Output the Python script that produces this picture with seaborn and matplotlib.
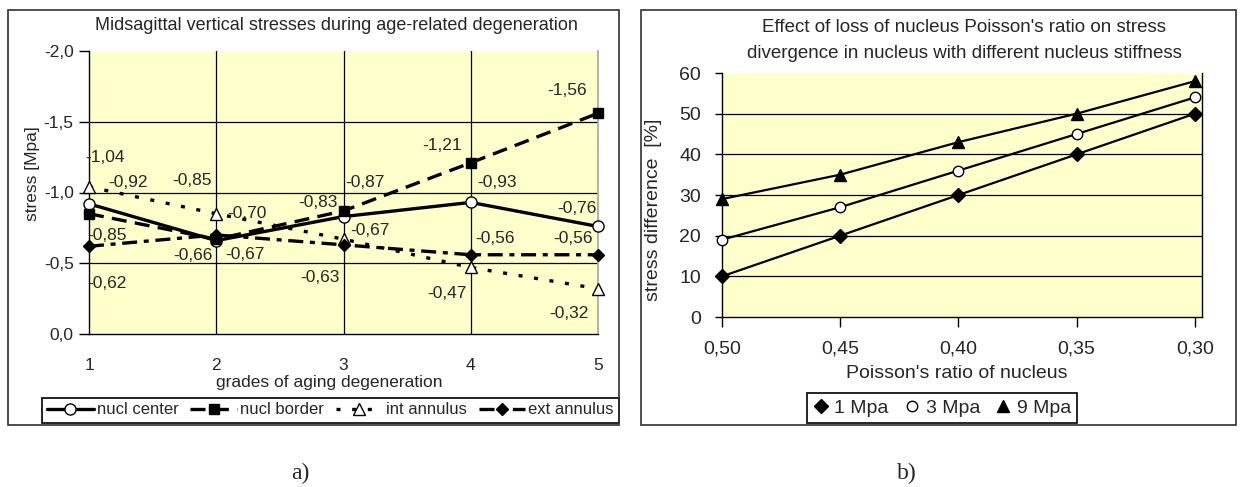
import seaborn as sns
import matplotlib.pyplot as plt
from matplotlib.lines import Line2D
from matplotlib.patches import Rectangle

# a) midsagittal vertical stresses
grades = [1, 2, 3, 4, 5]
nucl_center = [-0.92, -0.66, -0.83, -0.93, -0.76]
nucl_border = [-0.85, -0.67, -0.87, -1.21, -1.56]
int_annulus = [-1.04, -0.85, -0.67, -0.47, -0.32]
ext_annulus = [-0.62, -0.70, -0.63, -0.56, -0.56]
names_a = ['nucl center', 'nucl border', 'int annulus', 'ext annulus']
yticks_a = [-2.0, -1.5, -1.0, -0.5, 0.0]

# b) stress difference vs poisson's ratio
poisson = [0.50, 0.45, 0.40, 0.35, 0.30]
mpa_1 = [10, 20, 30, 40, 50]
mpa_3 = [19, 27, 36, 45, 54]
mpa_9 = [29, 35, 43, 50, 58]
names_b = ['1 Mpa', '3 Mpa', '9 Mpa']
yticks_b = [0, 10, 20, 30, 40, 50, 60]

W, H = 1243, 487
fx = lambda px: px / W
fy = lambda py: 1 - py / H
bg = '#ffffcc'
fs_a = 12.5
fs_b = 14

sns.set_theme(style='white')
plt.rcParams['font.family'] = ['Liberation Sans', 'DejaVu Sans']
plt.rcParams['font.size'] = fs_a

fig = plt.figure(figsize=(W / 100, H / 100), dpi=100)

# outer frames of the two charts
for x0, x1 in [(8, 619), (641, 1236)]:
    fig.patches.append(Rectangle((fx(x0), fy(425)), (x1 - x0) / W, 415 / H,
                                 transform=fig.transFigure, fill=False,
                                 edgecolor='#303030', lw=1.2))

# ---------------- a) ----------------
ax1 = fig.add_axes([fx(89), fy(334), (598 - 89) / W, (334 - 51) / H])
ax1.set_facecolor(bg)

styles_a = [
    dict(linestyle='-', marker='o', markerfacecolor='white', markersize=8),
    dict(linestyle=(0, (4.5, 2.5)), marker='s', markerfacecolor='black', markersize=6.5),
    dict(linestyle=(0, (1.2, 3.5)), marker='^', markerfacecolor='white', markersize=9),
    dict(linestyle=(0, (4.5, 2, 1.5, 2)), marker='D', markerfacecolor='black', markersize=6.5),
]
# data label offsets in pixels (dx, dy) for each point
offsets_a = [
    [(39, 21), (-23, -15), (-26, 14), (26, 20), (-21, 18)],
    [(18, -22), (29, -15), (21, 28), (-29, 17), (-31, 23)],
    [(16, 29), (-24, 33), (26, 9), (-24, -26), (-29, -25)],
    [(18, -37), (31, 21), (-24, -33), (24, 16), (-25, 16)],
]
for name, vals, st, offs in zip(names_a, [nucl_center, nucl_border, int_annulus, ext_annulus],
                                styles_a, offsets_a):
    sns.lineplot(x=grades, y=vals, ax=ax1, color='black', lw=2.4, label=name,
                 errorbar=None, markeredgecolor='black', markeredgewidth=1,
                 clip_on=False, zorder=3, **st)
    for g, v, (dx, dy) in zip(grades, vals, offs):
        ax1.annotate(f'{v:.2f}'.replace('.', ','), (g, v), xytext=(dx, dy),
                     textcoords='offset pixels', ha='center', va='center', fontsize=fs_a)

ax1.set_xlim(1, 5)
ax1.set_ylim(0, -2)
ax1.set_xticks(grades)
ax1.set_yticks(yticks_a)
ax1.set_yticklabels([f'{v:.1f}'.replace('.', ',') for v in yticks_a])
ax1.grid(True, color='black', lw=0.9)
for gl in [ax1.xaxis.get_gridlines()[0], ax1.xaxis.get_gridlines()[-1],
           ax1.yaxis.get_gridlines()[0], ax1.yaxis.get_gridlines()[-1]]:
    gl.set_visible(False)
ax1.tick_params(axis='y', left=True, length=7, width=1, color='black', pad=4, labelsize=fs_a)
ax1.tick_params(axis='x', bottom=False, pad=11, labelsize=fs_a)
for s in ['left', 'bottom']:
    ax1.spines[s].set_color('black')
    ax1.spines[s].set_linewidth(1)
ax1.spines['top'].set_visible(False)
ax1.spines['right'].set_color('#a8a8a8')
ax1.set_xlabel('')
ax1.set_ylabel('')

h, l = ax1.get_legend_handles_labels()
leg1 = ax1.legend(h, l, loc='center', ncol=4, mode='expand',
                  bbox_to_anchor=(fx(42), fy(425), (619 - 42) / W, 30 / H),
                  bbox_transform=fig.transFigure, fancybox=False, framealpha=1,
                  edgecolor='black', fontsize=12, handlelength=2.8, handletextpad=0.2,
                  columnspacing=0.7, borderpad=0.3, borderaxespad=0)
leg1.get_frame().set_linewidth(1.2)

fig.text(fx(336), fy(25), 'Midsagittal vertical stresses during age-related degeneration',
         ha='center', va='center', fontsize=13)
fig.text(fx(33), fy(174), 'stress [Mpa]', rotation=90, ha='center', va='center', fontsize=fs_a)
fig.text(fx(329), fy(382), 'grades of aging degeneration', ha='center', va='center',
         fontsize=fs_a)

# ---------------- b) ----------------
ax2 = fig.add_axes([fx(722), fy(317), (1202 - 722) / W, (317 - 73) / H])
ax2.set_facecolor(bg)

styles_b = [
    dict(marker='D', markerfacecolor='black', markersize=7),
    dict(marker='o', markerfacecolor='white', markersize=7.5),
    dict(marker='^', markerfacecolor='black', markersize=8.5),
]
for name, vals, st in zip(names_b, [mpa_1, mpa_3, mpa_9], styles_b):
    sns.lineplot(x=poisson, y=vals, ax=ax2, color='black', lw=1.6, errorbar=None,
                 markeredgecolor='black', markeredgewidth=1, clip_on=False,
                 zorder=3, **st)

ax2.set_xlim(0.50, 0.297)
ax2.set_ylim(0, 60)
ax2.set_xticks(poisson)
ax2.set_xticklabels([f'{v:.2f}'.replace('.', ',') for v in poisson])
ax2.set_yticks(yticks_b)
ax2.grid(True, axis='y', color='black', lw=0.9)
ax2.grid(False, axis='x')
ax2.yaxis.get_gridlines()[0].set_visible(False)
ax2.yaxis.get_gridlines()[-1].set_visible(False)
ax2.tick_params(axis='y', left=True, length=5, width=1, color='black', pad=10, labelsize=fs_b)
ax2.tick_params(axis='x', bottom=True, length=7, width=1, color='black', pad=10, labelsize=fs_b)
for s in ['left', 'bottom', 'right']:
    ax2.spines[s].set_color('black')
    ax2.spines[s].set_linewidth(1)
ax2.spines['top'].set_visible(False)
ax2.set_xlabel('')
ax2.set_ylabel('')

handles_b = [Line2D([], [], linestyle='none', color='black', markeredgecolor='black', **st)
             for st in styles_b]
leg2 = ax2.legend(handles_b, names_b, loc='center', ncol=3,
                  bbox_to_anchor=(fx(942), fy(408)), bbox_transform=fig.transFigure,
                  fancybox=False, framealpha=1, edgecolor='black', fontsize=fs_b,
                  handlelength=0.8, handletextpad=0.3, columnspacing=0.8,
                  borderpad=0.3, borderaxespad=0)
leg2.get_frame().set_linewidth(1.2)

fig.text(fx(964), fy(27), "Effect of loss of nucleus Poisson's ratio on stress",
         ha='center', va='center', fontsize=13.5)
fig.text(fx(964), fy(53), 'divergence in nucleus with different nucleus stiffness',
         ha='center', va='center', fontsize=13.5)
fig.text(fx(653), fy(210), 'stress difference  [%]', rotation=90, ha='center', va='center',
         fontsize=fs_b)
fig.text(fx(957), fy(374), "Poisson's ratio of nucleus", ha='center', va='center',
         fontsize=fs_b)

fig.text(fx(300), fy(473), 'a)', ha='center', va='center', fontsize=17,
         family=['Liberation Serif', 'DejaVu Serif'])
fig.text(fx(907), fy(473), 'b)', ha='center', va='center', fontsize=17,
         family=['Liberation Serif', 'DejaVu Serif'])

fig.savefig('out.png', dpi=100)
